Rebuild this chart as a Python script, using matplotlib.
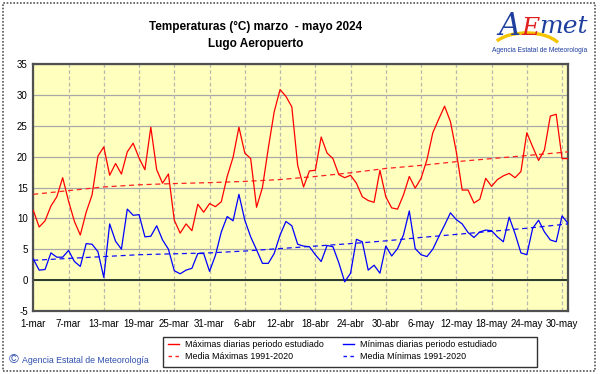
import matplotlib.pyplot as plt
import numpy as np
from matplotlib.patches import Rectangle, Arc
from matplotlib.lines import Line2D

plt.rcParams['font.family'] = ['Liberation Sans', 'DejaVu Sans']
plt.rcParams['axes.unicode_minus'] = False

# daily values, 1-mar .. 31-may 2024
tmax = [11.3, 8.6, 9.6, 12.0, 13.5, 16.6, 12.8, 9.5, 7.3, 11.0,
        13.8, 20.1, 21.6, 17.0, 18.9, 17.2, 20.8, 22.2, 19.8, 17.9,
        24.8, 17.9, 15.7, 17.2, 9.7, 7.6, 9.1, 8.0, 12.3, 11.0,
        12.4, 11.9, 12.7, 16.8, 19.9, 24.8, 20.6, 19.7, 11.8, 15.0,
        21.4, 27.3, 30.9, 29.8, 28.1, 18.6, 15.1, 17.7, 17.8, 23.2,
        20.6, 19.7, 17.1, 16.6, 17.0, 15.7, 13.5, 12.9, 12.6, 17.8,
        13.5, 11.7, 11.5, 13.8, 16.8, 14.9, 16.5, 19.5, 23.9, 26.1,
        28.2, 25.7, 20.8, 14.6, 14.6, 12.5, 13.1, 16.5, 15.2, 16.3,
        16.9, 17.3, 16.6, 17.6, 23.9, 21.6, 19.4, 21.1, 26.6, 26.9,
        19.7, 19.7]
tmin = [3.4, 1.6, 1.7, 4.4, 3.7, 3.7, 4.8, 3.0, 2.2, 5.9,
        5.8, 4.6, 0.4, 9.1, 6.3, 5.0, 11.5, 10.5, 10.6, 7.0,
        7.1, 8.8, 6.5, 5.0, 1.5, 1.0, 1.6, 1.9, 4.3, 4.3,
        1.4, 4.0, 7.8, 10.3, 9.6, 13.9, 9.7, 7.0, 4.9, 2.7,
        2.7, 4.3, 7.3, 9.5, 8.8, 5.8, 5.5, 5.4, 4.1, 3.0,
        5.6, 5.4, 2.8, -0.3, 1.1, 6.6, 6.2, 1.6, 2.4, 1.1,
        5.5, 3.9, 5.1, 7.3, 11.2, 5.1, 4.1, 3.8, 5.0, 7.0,
        8.9, 10.9, 9.8, 9.1, 7.7, 6.9, 7.8, 8.1, 8.0, 7.0,
        6.2, 10.2, 7.5, 4.4, 4.1, 8.4, 9.7, 7.8, 6.5, 6.2,
        10.4, 9.2]

# climatological means 1991-2020, read at every 6th day
mean_days = [0, 6, 12, 18, 24, 30, 36, 42, 48, 54, 60, 66, 72, 78, 84, 90, 91]
mean_max = [13.9, 14.5, 15.1, 15.45, 15.65, 15.8, 16.0, 16.3, 16.8, 17.4,
            18.1, 18.6, 19.2, 19.7, 20.2, 20.7, 20.8]
mean_min = [3.2, 3.5, 3.8, 4.1, 4.25, 4.4, 4.7, 5.1, 5.5, 5.9,
            6.35, 6.9, 7.4, 7.9, 8.4, 9.0, 9.1]

tick_days = [0, 6, 12, 18, 24, 30, 36, 42, 48, 54, 60, 66, 72, 78, 84, 90]
tick_labels = ['1-mar', '7-mar', '13-mar', '19-mar', '25-mar', '31-mar',
               '6-abr', '12-abr', '18-abr', '24-abr', '30-abr', '6-may',
               '12-may', '18-may', '24-may', '30-may']

days = np.arange(len(tmax))

fig = plt.figure(figsize=(6.01, 3.74), dpi=100)
ax = fig.add_axes([0.0554, 0.169, 0.8896, 0.659])
ax.set_facecolor('#FFFFBE')

ax.set_xlim(0, 91)
ax.set_ylim(-5, 35)
ax.set_yticks(range(-5, 36, 5))
ax.set_xticks(tick_days)
ax.set_xticklabels(tick_labels)
ax.tick_params(length=0, labelsize=7, pad=4)
ax.tick_params(axis='x', pad=6)

for y in range(-5, 36, 5):
    ax.axhline(y, color='#A8A8A8', lw=0.9, zorder=1)
for d in tick_days:
    ax.axvline(d, color='#B8B8B0', lw=0.9, ls=(0, (3, 2)), zorder=1)
ax.axhline(0, color='#2A3A2A', lw=1.4, zorder=2)

ax.plot(days, tmax, color='#FF0000', lw=0.9, zorder=4)
ax.plot(days, tmin, color='#0000FF', lw=0.9, zorder=4)
ax.plot(mean_days, mean_max, color='#FF2020', lw=0.9, ls=(0, (4, 3)), zorder=3)
ax.plot(mean_days, mean_min, color='#1010FF', lw=0.9, ls=(0, (4, 3)), zorder=3)

for s in ax.spines.values():
    s.set_color('#505050')
    s.set_linewidth(1.6)

fig.text(0.425, 0.928, 'Temperaturas (°C) marzo  - mayo 2024', ha='center', va='center',
         fontsize=8.5, fontweight='bold')
fig.text(0.425, 0.883, 'Lugo Aeropuerto', ha='center', va='center',
         fontsize=8.5, fontweight='bold')

# logo
fig.add_artist(Arc((0.876, 0.862), 0.12, 0.1, theta1=25, theta2=150,
                   transform=fig.transFigure, color='#F5C400', lw=2.4))
fig.text(0.848, 0.93, 'A', color='#1F3F9F', fontsize=22, style='italic', ha='center', va='center',
         family='DejaVu Serif')
fig.text(0.882, 0.925, 'E', color='#E02020', fontsize=18, ha='center', va='center',
         family='DejaVu Serif', style='italic')
fig.text(0.937, 0.93, 'met', color='#1F3F9F', fontsize=18, style='italic', ha='center', va='center',
         family='DejaVu Serif')
fig.text(0.898, 0.866, 'Agencia Estatal de Meteorología', color='#1F3F9F', fontsize=4.8,
         ha='center', va='center', family='Liberation Sans')

fig.text(0.015, 0.036, '©', color='#3050B0', fontsize=9.5, ha='left', va='center')
fig.text(0.037, 0.035, 'Agencia Estatal de Meteorología', color='#3050B0', fontsize=6.3,
         ha='left', va='center', family='Liberation Sans')

handles = [Line2D([], [], color='#FF0000', lw=1.0),
           Line2D([], [], color='#FF2020', lw=1.0, ls=(0, (2.5, 2.5))),
           Line2D([], [], color='#0000FF', lw=1.0),
           Line2D([], [], color='#1010FF', lw=1.0, ls=(0, (2.5, 2.5)))]
labels = ['Máximas diarias periodo estudiado', 'Media Máximas 1991-2020',
          'Mínimas diarias periodo estudiado', 'Media Mínimas 1991-2020']
leg = fig.legend(handles, labels, ncol=2, loc='upper left',
                 bbox_to_anchor=(168 / 601, 1 - 340 / 374),
                 prop={'family': 'Liberation Sans', 'size': 6.4}, frameon=False,
                 handlelength=1.2, borderpad=0, borderaxespad=0, columnspacing=2.2,
                 labelspacing=0.35, handletextpad=0.7)
fig.add_artist(Rectangle((163 / 601, 1 - 367 / 374), 374 / 601, 30 / 374,
                         transform=fig.transFigure, fill=False, edgecolor='#333333', lw=1.0))

fig.add_artist(Rectangle((0.005, 0.008), 0.985, 0.984, transform=fig.transFigure,
                         fill=False, edgecolor='#555555', lw=1.2, ls=(0, (1, 1))))

fig.savefig('out.png', dpi=100)
